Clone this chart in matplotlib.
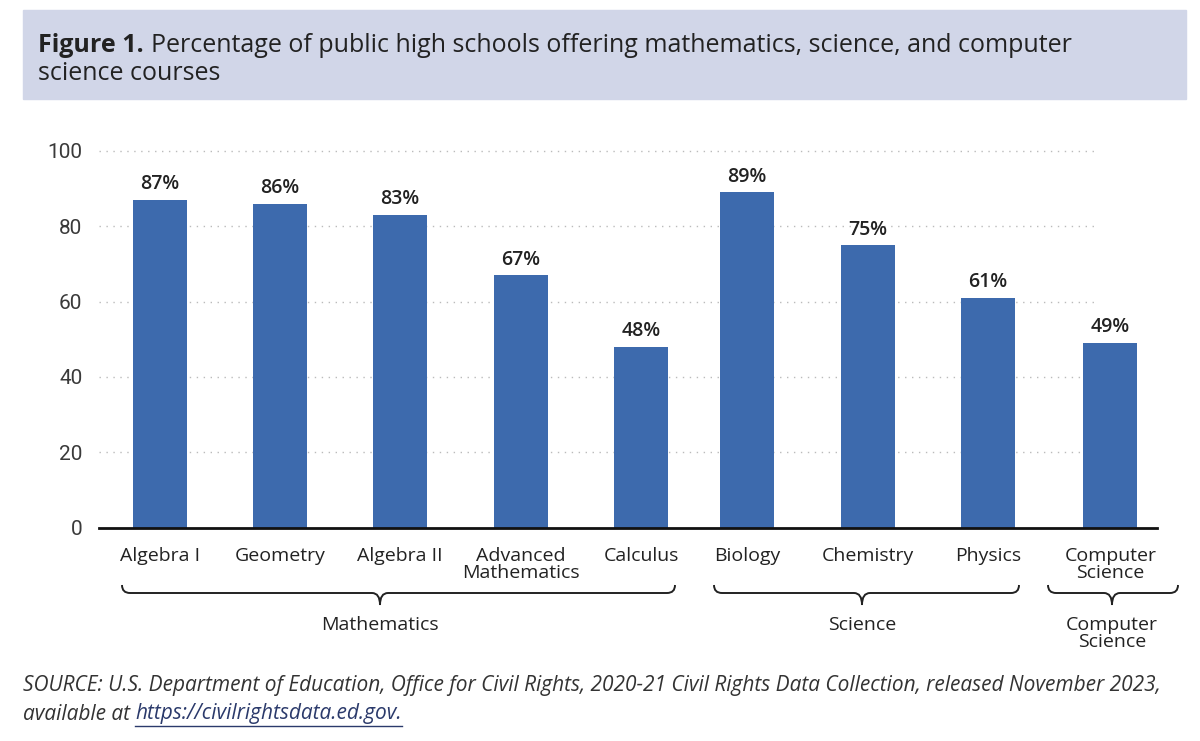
import matplotlib
matplotlib.use("Agg")
import matplotlib.pyplot as plt
from matplotlib.patches import Rectangle, PathPatch
from matplotlib.path import Path
from matplotlib.lines import Line2D

# ── data ──
categories = ["Algebra I", "Geometry", "Algebra II", "Advanced\nMathematics", "Calculus",
              "Biology", "Chemistry", "Physics", "Computer\nScience"]
values = [87, 86, 83, 67, 48, 89, 75, 61, 49]
group_names = ["Mathematics", "Science", "Computer\nScience"]
yticks = [0, 20, 40, 60, 80, 100]

# bar slots (layout only): small gap before the science group
positions = [0, 1, 2, 3.008, 4.008, 4.892, 5.9, 6.9, 7.92]

BAR = "#3D6AAD"
BAND = "#D1D6E8"
TXT = "#222222"
MAIN_FONT = ["Open Sans", "DejaVu Sans"]
NARROW = ["Liberation Sans Narrow", "Roboto", "DejaVu Sans"]

W, H = 1200, 741
fig = plt.figure(figsize=(W / 100, H / 100), dpi=100)


def fx(px):
    return px / W


def fy(py):
    return 1 - py / H


# ── title band ──
fig.patches.append(Rectangle((fx(23), fy(99)), fx(1186) - fx(23), fy(10) - fy(99),
                             transform=fig.transFigure, color=BAND, zorder=0))
t1 = fig.text(fx(38), fy(45), "Figure 1.", fontsize=18, fontweight="bold",
              family=MAIN_FONT, color=TXT, va="center", ha="left")
fig.canvas.draw()
bb = t1.get_window_extent()
fig.text(fx(bb.x1 + 7), fy(45),
         "Percentage of public high schools offering mathematics, science, and computer",
         fontsize=18, family=MAIN_FONT, color=TXT, va="center", ha="left")
fig.text(fx(38), fy(73), "science courses", fontsize=18, family=MAIN_FONT,
         color=TXT, va="center", ha="left")

# ── axes ──
x_left, x_right = 99, 1157
y_top, y_bot = 151, 527.5
ax = fig.add_axes([fx(x_left), fy(y_bot), fx(x_right) - fx(x_left), fy(y_top) - fy(y_bot)])
unit = 120.0
ax.set_xlim((x_left - 160) / unit, (x_right - 160) / unit)
ax.set_ylim(0, 100)

for y in yticks[1:]:
    ax.axhline(y, xmin=0, xmax=(1097 - x_left) / (x_right - x_left),
               color="#BBBBBB", lw=1, ls=(0, (1, 4)), zorder=0, clip_on=False)

ax.bar(positions, values, width=0.45, color=BAR, zorder=2)
for p, v in zip(positions, values):
    ax.annotate(f"{v}%", (p, v), xytext=(0, 4), textcoords="offset points",
                ha="center", va="bottom", fontsize=14, fontweight="semibold",
                family=MAIN_FONT, color=TXT)

for s in ["top", "right", "left"]:
    ax.spines[s].set_visible(False)
ax.spines["bottom"].set_color("#111111")
ax.spines["bottom"].set_linewidth(2)
ax.spines["bottom"].set_zorder(3)

ax.set_yticks(yticks)
ax.set_yticklabels([str(t) for t in yticks], fontsize=15, family=NARROW, color="#3a3a3a")
ax.tick_params(axis="y", length=0, pad=12)
ax.set_xticks(positions)
ax.set_xticklabels(categories, fontsize=14, family=MAIN_FONT, color=TXT, linespacing=0.95)
ax.tick_params(axis="x", length=0, pad=14)
for lab in ax.get_xticklabels():
    lab.set_verticalalignment("top")


# ── group braces ──
def brace(x0, x1, xt, ytop=585, ymid=593, ytip=605, r=8):
    pts = [(x0, ytop), (x0, ymid), (x0 + r, ymid),
           (xt - r, ymid), (xt, ymid), (xt, ytip),
           (xt, ymid), (xt + r, ymid),
           (x1 - r, ymid), (x1, ymid), (x1, ytop)]
    codes = [Path.MOVETO, Path.CURVE3, Path.CURVE3,
             Path.LINETO, Path.CURVE3, Path.CURVE3,
             Path.CURVE3, Path.CURVE3,
             Path.LINETO, Path.CURVE3, Path.CURVE3]
    path = Path([(fx(a), fy(b)) for a, b in pts], codes)
    fig.patches.append(PathPatch(path, transform=fig.transFigure, fill=False,
                                 edgecolor="#222222", lw=1.4))


brace_spans = [(122, 675, 380), (714, 1019, 862), (1048, 1178, 1112)]
for (x0, x1, xt), name in zip(brace_spans, group_names):
    brace(x0, x1, xt)
    fig.text(fx(xt), fy(616), name, fontsize=14, family=MAIN_FONT, color=TXT,
             ha="center", va="top", linespacing=0.95)

# ── source note ──
fig.text(fx(23), fy(685),
         "SOURCE: U.S. Department of Education, Office for Civil Rights, 2020-21 Civil Rights "
         "Data Collection, released November 2023,",
         fontsize=15, style="italic", family=MAIN_FONT, color="#333333", va="center")
s2 = fig.text(fx(23), fy(714), "available at ", fontsize=15, style="italic",
              family=MAIN_FONT, color="#333333", va="center")
fig.canvas.draw()
b2 = s2.get_window_extent()
link = fig.text(fx(b2.x1), fy(714), "https://civilrightsdata.ed.gov.", fontsize=15,
                style="italic", family=MAIN_FONT, color="#2B3A6B", va="center")
fig.canvas.draw()
bl = link.get_window_extent()
fig.lines.append(Line2D([bl.x0 / W, bl.x1 / W], [fy(726), fy(726)],
                        transform=fig.transFigure, color="#2B3A6B", lw=1))

fig.savefig("out.png", dpi=100)
